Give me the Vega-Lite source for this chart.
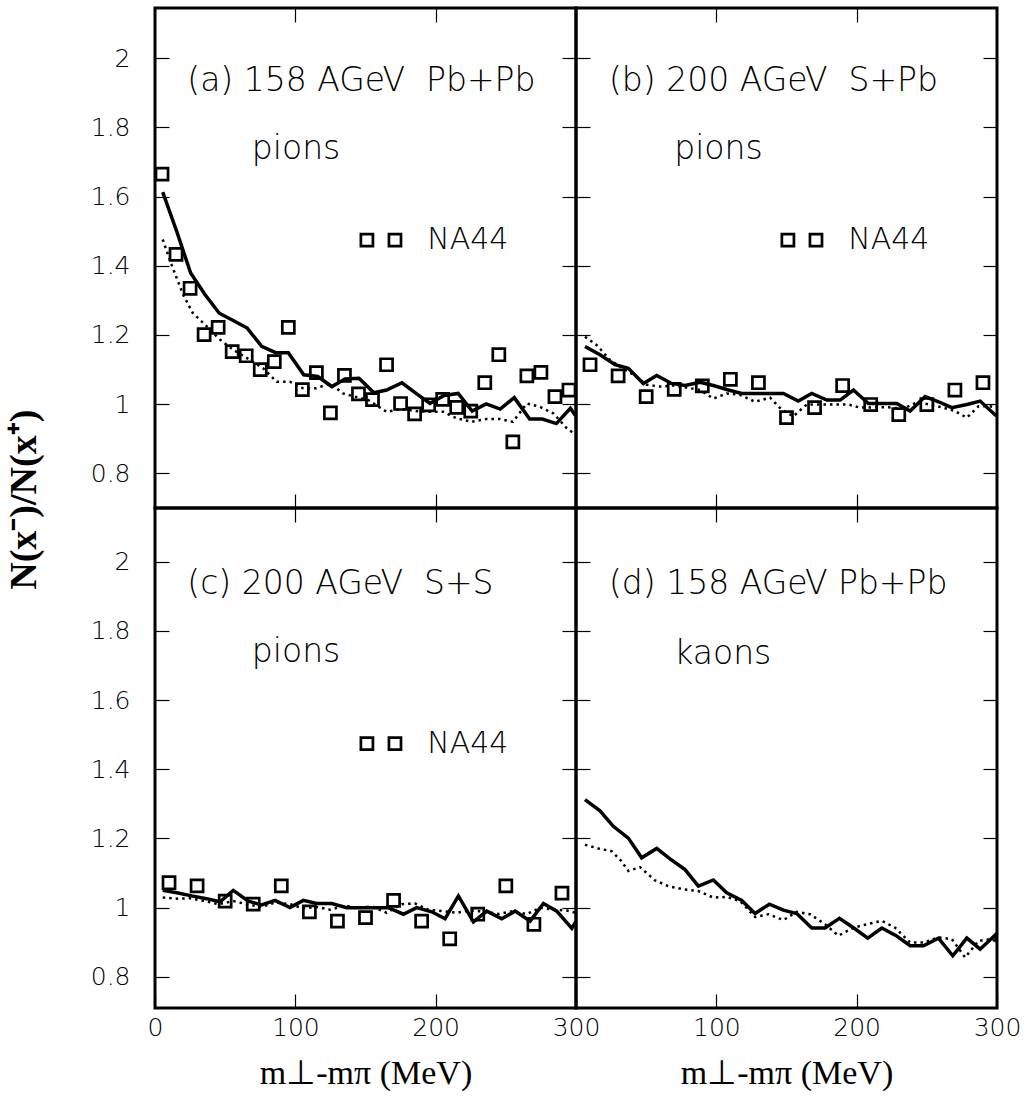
{
  "$schema": "https://vega.github.io/schema/vega-lite/v6.json",
  "padding": {"left": 5, "top": 5, "right": 10, "bottom": 5},
  "background": "white",
  "title": {
    "text": "N(x⁻)/N(x⁺)",
    "orient": "left",
    "anchor": "middle",
    "font": "Liberation Serif",
    "fontSize": 38,
    "fontWeight": "bold",
    "color": "black",
    "offset": 45,
    "dx": 49
  },
  "datasets": {
    "curves": [
      {"panel": "a", "curve": "solid", "x": 5.5, "y": 1.613},
      {"panel": "a", "curve": "solid", "x": 15.5, "y": 1.499},
      {"panel": "a", "curve": "solid", "x": 25.4, "y": 1.379},
      {"panel": "a", "curve": "solid", "x": 35.6, "y": 1.317},
      {"panel": "a", "curve": "solid", "x": 45.8, "y": 1.263},
      {"panel": "a", "curve": "solid", "x": 55.7, "y": 1.242},
      {"panel": "a", "curve": "solid", "x": 65.7, "y": 1.22},
      {"panel": "a", "curve": "solid", "x": 76, "y": 1.167},
      {"panel": "a", "curve": "solid", "x": 86, "y": 1.149},
      {"panel": "a", "curve": "solid", "x": 95, "y": 1.149},
      {"panel": "a", "curve": "solid", "x": 106, "y": 1.085},
      {"panel": "a", "curve": "solid", "x": 116, "y": 1.08},
      {"panel": "a", "curve": "solid", "x": 126, "y": 1.051},
      {"panel": "a", "curve": "solid", "x": 135.4, "y": 1.073},
      {"panel": "a", "curve": "solid", "x": 145.4, "y": 1.075},
      {"panel": "a", "curve": "solid", "x": 156, "y": 1.033},
      {"panel": "a", "curve": "solid", "x": 165, "y": 1.041},
      {"panel": "a", "curve": "solid", "x": 176, "y": 1.062},
      {"panel": "a", "curve": "solid", "x": 186, "y": 1.031},
      {"panel": "a", "curve": "solid", "x": 196, "y": 1.002},
      {"panel": "a", "curve": "solid", "x": 206, "y": 1.025},
      {"panel": "a", "curve": "solid", "x": 216, "y": 1.031},
      {"panel": "a", "curve": "solid", "x": 226, "y": 0.98},
      {"panel": "a", "curve": "solid", "x": 236, "y": 1.001},
      {"panel": "a", "curve": "solid", "x": 246, "y": 0.986},
      {"panel": "a", "curve": "solid", "x": 256, "y": 1.019},
      {"panel": "a", "curve": "solid", "x": 267, "y": 0.957},
      {"panel": "a", "curve": "solid", "x": 276, "y": 0.957},
      {"panel": "a", "curve": "solid", "x": 286, "y": 0.944},
      {"panel": "a", "curve": "solid", "x": 296, "y": 0.988},
      {"panel": "a", "curve": "solid", "x": 300, "y": 0.965},
      {"panel": "a", "curve": "dotted", "x": 5.5, "y": 1.476},
      {"panel": "a", "curve": "dotted", "x": 11.8, "y": 1.403},
      {"panel": "a", "curve": "dotted", "x": 20, "y": 1.317},
      {"panel": "a", "curve": "dotted", "x": 27, "y": 1.263},
      {"panel": "a", "curve": "dotted", "x": 35.6, "y": 1.23},
      {"panel": "a", "curve": "dotted", "x": 45, "y": 1.191},
      {"panel": "a", "curve": "dotted", "x": 55.8, "y": 1.157},
      {"panel": "a", "curve": "dotted", "x": 67.7, "y": 1.128},
      {"panel": "a", "curve": "dotted", "x": 77, "y": 1.104},
      {"panel": "a", "curve": "dotted", "x": 86.7, "y": 1.065},
      {"panel": "a", "curve": "dotted", "x": 96, "y": 1.065},
      {"panel": "a", "curve": "dotted", "x": 105.7, "y": 1.046},
      {"panel": "a", "curve": "dotted", "x": 115, "y": 1.046},
      {"panel": "a", "curve": "dotted", "x": 124.7, "y": 1.06},
      {"panel": "a", "curve": "dotted", "x": 134, "y": 1.031},
      {"panel": "a", "curve": "dotted", "x": 144, "y": 1.02},
      {"panel": "a", "curve": "dotted", "x": 152, "y": 1.012},
      {"panel": "a", "curve": "dotted", "x": 165, "y": 0.978},
      {"panel": "a", "curve": "dotted", "x": 176, "y": 0.986},
      {"panel": "a", "curve": "dotted", "x": 186.5, "y": 0.98},
      {"panel": "a", "curve": "dotted", "x": 196, "y": 0.978},
      {"panel": "a", "curve": "dotted", "x": 205.5, "y": 0.978},
      {"panel": "a", "curve": "dotted", "x": 215, "y": 0.959},
      {"panel": "a", "curve": "dotted", "x": 225.7, "y": 0.949},
      {"panel": "a", "curve": "dotted", "x": 236, "y": 0.957},
      {"panel": "a", "curve": "dotted", "x": 246, "y": 0.957},
      {"panel": "a", "curve": "dotted", "x": 255, "y": 0.949},
      {"panel": "a", "curve": "dotted", "x": 265, "y": 1.002},
      {"panel": "a", "curve": "dotted", "x": 274, "y": 0.993},
      {"panel": "a", "curve": "dotted", "x": 284, "y": 0.973},
      {"panel": "a", "curve": "dotted", "x": 293.5, "y": 0.93},
      {"panel": "a", "curve": "dotted", "x": 300, "y": 0.911},
      {"panel": "b", "curve": "solid", "x": 6.4, "y": 1.167},
      {"panel": "b", "curve": "solid", "x": 17.1, "y": 1.143},
      {"panel": "b", "curve": "solid", "x": 27.8, "y": 1.114},
      {"panel": "b", "curve": "solid", "x": 37.3, "y": 1.104},
      {"panel": "b", "curve": "solid", "x": 48, "y": 1.06},
      {"panel": "b", "curve": "solid", "x": 57.5, "y": 1.083},
      {"panel": "b", "curve": "solid", "x": 68.2, "y": 1.06},
      {"panel": "b", "curve": "solid", "x": 77.7, "y": 1.054},
      {"panel": "b", "curve": "solid", "x": 88.4, "y": 1.063},
      {"panel": "b", "curve": "solid", "x": 97.9, "y": 1.054},
      {"panel": "b", "curve": "solid", "x": 108.6, "y": 1.041},
      {"panel": "b", "curve": "solid", "x": 118.1, "y": 1.031},
      {"panel": "b", "curve": "solid", "x": 128.8, "y": 1.031},
      {"panel": "b", "curve": "solid", "x": 138.3, "y": 1.031},
      {"panel": "b", "curve": "solid", "x": 147.8, "y": 1.031},
      {"panel": "b", "curve": "solid", "x": 158.4, "y": 1.009},
      {"panel": "b", "curve": "solid", "x": 168, "y": 1.031},
      {"panel": "b", "curve": "solid", "x": 178.7, "y": 1.012},
      {"panel": "b", "curve": "solid", "x": 188.2, "y": 1.012},
      {"panel": "b", "curve": "solid", "x": 197.7, "y": 1.041},
      {"panel": "b", "curve": "solid", "x": 208.4, "y": 1.002},
      {"panel": "b", "curve": "solid", "x": 217.9, "y": 1.002},
      {"panel": "b", "curve": "solid", "x": 228.6, "y": 1.002},
      {"panel": "b", "curve": "solid", "x": 238.1, "y": 0.98},
      {"panel": "b", "curve": "solid", "x": 248.8, "y": 1.022},
      {"panel": "b", "curve": "solid", "x": 258.3, "y": 1.007},
      {"panel": "b", "curve": "solid", "x": 267.8, "y": 0.99},
      {"panel": "b", "curve": "solid", "x": 278.5, "y": 0.999},
      {"panel": "b", "curve": "solid", "x": 288, "y": 1.009},
      {"panel": "b", "curve": "solid", "x": 298.7, "y": 0.969},
      {"panel": "b", "curve": "solid", "x": 300, "y": 0.968},
      {"panel": "b", "curve": "dotted", "x": 6.4, "y": 1.195},
      {"panel": "b", "curve": "dotted", "x": 14.7, "y": 1.171},
      {"panel": "b", "curve": "dotted", "x": 24.2, "y": 1.128},
      {"panel": "b", "curve": "dotted", "x": 31.4, "y": 1.109},
      {"panel": "b", "curve": "dotted", "x": 40.8, "y": 1.085},
      {"panel": "b", "curve": "dotted", "x": 50.4, "y": 1.056},
      {"panel": "b", "curve": "dotted", "x": 59.9, "y": 1.051},
      {"panel": "b", "curve": "dotted", "x": 69.4, "y": 1.054},
      {"panel": "b", "curve": "dotted", "x": 78.9, "y": 1.048},
      {"panel": "b", "curve": "dotted", "x": 88.4, "y": 1.041},
      {"panel": "b", "curve": "dotted", "x": 97.9, "y": 1.016},
      {"panel": "b", "curve": "dotted", "x": 107.4, "y": 1.031},
      {"panel": "b", "curve": "dotted", "x": 116.9, "y": 1.027},
      {"panel": "b", "curve": "dotted", "x": 127.6, "y": 1.007},
      {"panel": "b", "curve": "dotted", "x": 138.3, "y": 1.019},
      {"panel": "b", "curve": "dotted", "x": 146.6, "y": 0.984},
      {"panel": "b", "curve": "dotted", "x": 154.9, "y": 0.965},
      {"panel": "b", "curve": "dotted", "x": 164.4, "y": 0.999},
      {"panel": "b", "curve": "dotted", "x": 173.9, "y": 0.999},
      {"panel": "b", "curve": "dotted", "x": 184.6, "y": 0.999},
      {"panel": "b", "curve": "dotted", "x": 194.1, "y": 0.999},
      {"panel": "b", "curve": "dotted", "x": 202.4, "y": 0.99},
      {"panel": "b", "curve": "dotted", "x": 213.1, "y": 0.991},
      {"panel": "b", "curve": "dotted", "x": 222.6, "y": 0.991},
      {"panel": "b", "curve": "dotted", "x": 233.3, "y": 0.987},
      {"panel": "b", "curve": "dotted", "x": 242.8, "y": 1.005},
      {"panel": "b", "curve": "dotted", "x": 252.3, "y": 0.999},
      {"panel": "b", "curve": "dotted", "x": 261.8, "y": 0.99},
      {"panel": "b", "curve": "dotted", "x": 270.1, "y": 0.98},
      {"panel": "b", "curve": "dotted", "x": 278.5, "y": 0.961},
      {"panel": "b", "curve": "dotted", "x": 286.8, "y": 0.994},
      {"panel": "b", "curve": "dotted", "x": 295.1, "y": 0.994},
      {"panel": "b", "curve": "dotted", "x": 300, "y": 0.99},
      {"panel": "c", "curve": "solid", "x": 5.5, "y": 1.05},
      {"panel": "c", "curve": "solid", "x": 15.5, "y": 1.043},
      {"panel": "c", "curve": "solid", "x": 26.1, "y": 1.034},
      {"panel": "c", "curve": "solid", "x": 36.8, "y": 1.026},
      {"panel": "c", "curve": "solid", "x": 46.3, "y": 1.017},
      {"panel": "c", "curve": "solid", "x": 55.8, "y": 1.05},
      {"panel": "c", "curve": "solid", "x": 66.5, "y": 1.019},
      {"panel": "c", "curve": "solid", "x": 76, "y": 1.008},
      {"panel": "c", "curve": "solid", "x": 85.5, "y": 1.021},
      {"panel": "c", "curve": "solid", "x": 96.2, "y": 1.0},
      {"panel": "c", "curve": "solid", "x": 105.7, "y": 1.021},
      {"panel": "c", "curve": "solid", "x": 115.2, "y": 1.012},
      {"panel": "c", "curve": "solid", "x": 125.9, "y": 1.012},
      {"panel": "c", "curve": "solid", "x": 136.6, "y": 1.0},
      {"panel": "c", "curve": "solid", "x": 146, "y": 1.0},
      {"panel": "c", "curve": "solid", "x": 156.8, "y": 1.0},
      {"panel": "c", "curve": "solid", "x": 166.3, "y": 1.0},
      {"panel": "c", "curve": "solid", "x": 177, "y": 0.981},
      {"panel": "c", "curve": "solid", "x": 186.5, "y": 1.0},
      {"panel": "c", "curve": "solid", "x": 197.2, "y": 0.988},
      {"panel": "c", "curve": "solid", "x": 206.7, "y": 0.968},
      {"panel": "c", "curve": "solid", "x": 216.2, "y": 1.034},
      {"panel": "c", "curve": "solid", "x": 226.9, "y": 0.959},
      {"panel": "c", "curve": "solid", "x": 236.4, "y": 0.99},
      {"panel": "c", "curve": "solid", "x": 247.1, "y": 0.968},
      {"panel": "c", "curve": "solid", "x": 256.6, "y": 0.99},
      {"panel": "c", "curve": "solid", "x": 267.3, "y": 0.961},
      {"panel": "c", "curve": "solid", "x": 276.8, "y": 1.012},
      {"panel": "c", "curve": "solid", "x": 286.3, "y": 0.99},
      {"panel": "c", "curve": "solid", "x": 297, "y": 0.94},
      {"panel": "c", "curve": "solid", "x": 300, "y": 0.96},
      {"panel": "c", "curve": "dotted", "x": 5.5, "y": 1.029},
      {"panel": "c", "curve": "dotted", "x": 15.5, "y": 1.026},
      {"panel": "c", "curve": "dotted", "x": 25, "y": 1.027},
      {"panel": "c", "curve": "dotted", "x": 35.6, "y": 1.019},
      {"panel": "c", "curve": "dotted", "x": 45, "y": 1.01},
      {"panel": "c", "curve": "dotted", "x": 55.8, "y": 1.019},
      {"panel": "c", "curve": "dotted", "x": 65.3, "y": 1.01},
      {"panel": "c", "curve": "dotted", "x": 76, "y": 1.002},
      {"panel": "c", "curve": "dotted", "x": 85.5, "y": 1.015},
      {"panel": "c", "curve": "dotted", "x": 96.2, "y": 1.01},
      {"panel": "c", "curve": "dotted", "x": 105.7, "y": 0.998},
      {"panel": "c", "curve": "dotted", "x": 115.2, "y": 1.002},
      {"panel": "c", "curve": "dotted", "x": 124.7, "y": 0.994},
      {"panel": "c", "curve": "dotted", "x": 135.4, "y": 1.006},
      {"panel": "c", "curve": "dotted", "x": 145, "y": 0.998},
      {"panel": "c", "curve": "dotted", "x": 154.4, "y": 1.004},
      {"panel": "c", "curve": "dotted", "x": 165.1, "y": 0.985},
      {"panel": "c", "curve": "dotted", "x": 175.8, "y": 1.01},
      {"panel": "c", "curve": "dotted", "x": 185.3, "y": 1.012},
      {"panel": "c", "curve": "dotted", "x": 194.8, "y": 0.994},
      {"panel": "c", "curve": "dotted", "x": 205.5, "y": 0.99},
      {"panel": "c", "curve": "dotted", "x": 215, "y": 0.985},
      {"panel": "c", "curve": "dotted", "x": 224.5, "y": 0.992},
      {"panel": "c", "curve": "dotted", "x": 235.2, "y": 0.988},
      {"panel": "c", "curve": "dotted", "x": 244.7, "y": 0.982},
      {"panel": "c", "curve": "dotted", "x": 255.4, "y": 0.99},
      {"panel": "c", "curve": "dotted", "x": 264.9, "y": 0.981},
      {"panel": "c", "curve": "dotted", "x": 274.4, "y": 1.0},
      {"panel": "c", "curve": "dotted", "x": 283.9, "y": 0.994},
      {"panel": "c", "curve": "dotted", "x": 293.4, "y": 0.992},
      {"panel": "c", "curve": "dotted", "x": 300, "y": 0.985},
      {"panel": "d", "curve": "solid", "x": 6.4, "y": 1.312},
      {"panel": "d", "curve": "solid", "x": 17.1, "y": 1.28},
      {"panel": "d", "curve": "solid", "x": 26.6, "y": 1.235},
      {"panel": "d", "curve": "solid", "x": 37.3, "y": 1.201},
      {"panel": "d", "curve": "solid", "x": 46.8, "y": 1.144},
      {"panel": "d", "curve": "solid", "x": 57.5, "y": 1.171},
      {"panel": "d", "curve": "solid", "x": 67, "y": 1.141},
      {"panel": "d", "curve": "solid", "x": 77.7, "y": 1.11},
      {"panel": "d", "curve": "solid", "x": 87.2, "y": 1.062},
      {"panel": "d", "curve": "solid", "x": 97.9, "y": 1.08},
      {"panel": "d", "curve": "solid", "x": 107.4, "y": 1.043},
      {"panel": "d", "curve": "solid", "x": 118.1, "y": 1.021},
      {"panel": "d", "curve": "solid", "x": 127.6, "y": 0.983},
      {"panel": "d", "curve": "solid", "x": 137.8, "y": 1.01},
      {"panel": "d", "curve": "solid", "x": 147.8, "y": 0.993},
      {"panel": "d", "curve": "solid", "x": 157.3, "y": 0.983},
      {"panel": "d", "curve": "solid", "x": 168, "y": 0.941},
      {"panel": "d", "curve": "solid", "x": 177.5, "y": 0.941},
      {"panel": "d", "curve": "solid", "x": 187.7, "y": 0.969},
      {"panel": "d", "curve": "solid", "x": 197.7, "y": 0.942},
      {"panel": "d", "curve": "solid", "x": 207.9, "y": 0.912},
      {"panel": "d", "curve": "solid", "x": 217.9, "y": 0.941},
      {"panel": "d", "curve": "solid", "x": 228.1, "y": 0.919},
      {"panel": "d", "curve": "solid", "x": 238.1, "y": 0.89},
      {"panel": "d", "curve": "solid", "x": 247.6, "y": 0.89},
      {"panel": "d", "curve": "solid", "x": 258.3, "y": 0.912},
      {"panel": "d", "curve": "solid", "x": 268.5, "y": 0.861},
      {"panel": "d", "curve": "solid", "x": 278.5, "y": 0.912},
      {"panel": "d", "curve": "solid", "x": 288, "y": 0.88},
      {"panel": "d", "curve": "solid", "x": 298.7, "y": 0.921},
      {"panel": "d", "curve": "solid", "x": 300, "y": 0.9},
      {"panel": "d", "curve": "dotted", "x": 6.4, "y": 1.182},
      {"panel": "d", "curve": "dotted", "x": 15.9, "y": 1.171},
      {"panel": "d", "curve": "dotted", "x": 25.4, "y": 1.163},
      {"panel": "d", "curve": "dotted", "x": 31.4, "y": 1.139},
      {"panel": "d", "curve": "dotted", "x": 37.3, "y": 1.106},
      {"panel": "d", "curve": "dotted", "x": 45.6, "y": 1.117},
      {"panel": "d", "curve": "dotted", "x": 56.3, "y": 1.079},
      {"panel": "d", "curve": "dotted", "x": 65.8, "y": 1.062},
      {"panel": "d", "curve": "dotted", "x": 76.5, "y": 1.053},
      {"panel": "d", "curve": "dotted", "x": 87.2, "y": 1.048},
      {"panel": "d", "curve": "dotted", "x": 97.9, "y": 1.029},
      {"panel": "d", "curve": "dotted", "x": 107.4, "y": 1.031},
      {"panel": "d", "curve": "dotted", "x": 116.9, "y": 1.019},
      {"panel": "d", "curve": "dotted", "x": 127.6, "y": 0.973},
      {"panel": "d", "curve": "dotted", "x": 137.1, "y": 0.981},
      {"panel": "d", "curve": "dotted", "x": 147.8, "y": 0.964},
      {"panel": "d", "curve": "dotted", "x": 157.3, "y": 0.988},
      {"panel": "d", "curve": "dotted", "x": 166.8, "y": 0.981},
      {"panel": "d", "curve": "dotted", "x": 177.5, "y": 0.952},
      {"panel": "d", "curve": "dotted", "x": 187, "y": 0.919},
      {"panel": "d", "curve": "dotted", "x": 197.7, "y": 0.942},
      {"panel": "d", "curve": "dotted", "x": 207.2, "y": 0.952},
      {"panel": "d", "curve": "dotted", "x": 217.9, "y": 0.962},
      {"panel": "d", "curve": "dotted", "x": 227.4, "y": 0.942},
      {"panel": "d", "curve": "dotted", "x": 238.1, "y": 0.899},
      {"panel": "d", "curve": "dotted", "x": 247.6, "y": 0.899},
      {"panel": "d", "curve": "dotted", "x": 258.3, "y": 0.914},
      {"panel": "d", "curve": "dotted", "x": 267.8, "y": 0.909},
      {"panel": "d", "curve": "dotted", "x": 277.3, "y": 0.856},
      {"panel": "d", "curve": "dotted", "x": 286.8, "y": 0.904},
      {"panel": "d", "curve": "dotted", "x": 296.3, "y": 0.909},
      {"panel": "d", "curve": "dotted", "x": 300, "y": 0.9}
    ],
    "points": [
      {"panel": "a", "x": 5, "y": 1.665},
      {"panel": "a", "x": 15, "y": 1.433},
      {"panel": "a", "x": 25, "y": 1.335},
      {"panel": "a", "x": 35, "y": 1.201},
      {"panel": "a", "x": 45, "y": 1.222},
      {"panel": "a", "x": 55, "y": 1.152},
      {"panel": "a", "x": 65, "y": 1.14},
      {"panel": "a", "x": 75, "y": 1.1},
      {"panel": "a", "x": 85, "y": 1.123},
      {"panel": "a", "x": 95, "y": 1.222},
      {"panel": "a", "x": 105, "y": 1.042},
      {"panel": "a", "x": 115, "y": 1.091},
      {"panel": "a", "x": 125, "y": 0.975},
      {"panel": "a", "x": 135, "y": 1.083},
      {"panel": "a", "x": 145, "y": 1.03},
      {"panel": "a", "x": 155, "y": 1.013},
      {"panel": "a", "x": 165, "y": 1.114},
      {"panel": "a", "x": 175, "y": 1.002},
      {"panel": "a", "x": 185, "y": 0.972},
      {"panel": "a", "x": 195, "y": 0.998},
      {"panel": "a", "x": 205, "y": 1.014},
      {"panel": "a", "x": 215, "y": 0.991},
      {"panel": "a", "x": 225, "y": 0.98},
      {"panel": "a", "x": 235, "y": 1.062},
      {"panel": "a", "x": 245, "y": 1.143},
      {"panel": "a", "x": 255, "y": 0.891},
      {"panel": "a", "x": 265, "y": 1.082},
      {"panel": "a", "x": 275, "y": 1.092},
      {"panel": "a", "x": 285, "y": 1.022},
      {"panel": "a", "x": 295, "y": 1.041},
      {"panel": "a", "x": 151, "y": 1.474},
      {"panel": "a", "x": 171, "y": 1.474},
      {"panel": "b", "x": 10, "y": 1.114},
      {"panel": "b", "x": 30, "y": 1.082},
      {"panel": "b", "x": 50, "y": 1.022},
      {"panel": "b", "x": 70, "y": 1.043},
      {"panel": "b", "x": 90, "y": 1.053},
      {"panel": "b", "x": 110, "y": 1.072},
      {"panel": "b", "x": 130, "y": 1.062},
      {"panel": "b", "x": 150, "y": 0.961},
      {"panel": "b", "x": 170, "y": 0.99},
      {"panel": "b", "x": 190, "y": 1.054},
      {"panel": "b", "x": 210, "y": 0.999},
      {"panel": "b", "x": 230, "y": 0.97},
      {"panel": "b", "x": 250, "y": 0.999},
      {"panel": "b", "x": 270, "y": 1.041},
      {"panel": "b", "x": 290, "y": 1.062},
      {"panel": "b", "x": 151, "y": 1.474},
      {"panel": "b", "x": 171, "y": 1.474},
      {"panel": "c", "x": 10, "y": 1.072},
      {"panel": "c", "x": 30, "y": 1.063},
      {"panel": "c", "x": 50, "y": 1.019},
      {"panel": "c", "x": 70, "y": 1.01},
      {"panel": "c", "x": 90, "y": 1.063},
      {"panel": "c", "x": 110, "y": 0.988},
      {"panel": "c", "x": 130, "y": 0.961},
      {"panel": "c", "x": 150, "y": 0.971},
      {"panel": "c", "x": 170, "y": 1.021},
      {"panel": "c", "x": 190, "y": 0.961},
      {"panel": "c", "x": 210, "y": 0.91},
      {"panel": "c", "x": 230, "y": 0.981},
      {"panel": "c", "x": 250, "y": 1.063},
      {"panel": "c", "x": 270, "y": 0.952},
      {"panel": "c", "x": 290, "y": 1.042},
      {"panel": "c", "x": 151, "y": 1.474},
      {"panel": "c", "x": 171, "y": 1.474}
    ],
    "notes": [
      {"panel": "a", "kind": "head", "x": 23, "y": 1.906, "label": "(a) 158 AGeV\u00a0 Pb+Pb"},
      {"panel": "a", "kind": "head", "x": 69, "y": 1.709, "label": "pions"},
      {"panel": "a", "kind": "key", "x": 194, "y": 1.474, "label": "NA44"},
      {"panel": "b", "kind": "head", "x": 23.5, "y": 1.906, "label": "(b) 200 AGeV\u00a0 S+Pb"},
      {"panel": "b", "kind": "head", "x": 70, "y": 1.709, "label": "pions"},
      {"panel": "b", "kind": "key", "x": 194, "y": 1.474, "label": "NA44"},
      {"panel": "c", "kind": "head", "x": 23, "y": 1.906, "label": "(c) 200 AGeV\u00a0 S+S"},
      {"panel": "c", "kind": "head", "x": 69, "y": 1.709, "label": "pions"},
      {"panel": "c", "kind": "key", "x": 194, "y": 1.474, "label": "NA44"},
      {"panel": "d", "kind": "head", "x": 23.5, "y": 1.906, "label": "(d) 158 AGeV Pb+Pb"},
      {"panel": "d", "kind": "head", "x": 70, "y": 1.705, "label": "kaons"}
    ]
  },
  "columns": 2,
  "spacing": 0,
  "bounds": "flush",
  "concat": [
    {
      "width": 421,
      "height": 500,
      "layer": [
        {
          "data": {"name": "curves"},
          "transform": [{"filter": "datum.panel === 'a' && datum.curve === 'solid'"}],
          "mark": {"type": "line", "color": "black", "strokeWidth": 3.5, "clip": true},
          "encoding": {
            "x": {"field": "x", "type": "quantitative", "scale": {"domain": [0, 300], "nice": false, "zero": false}, "axis": {"values": [100, 200], "labels": false, "title": null}},
            "y": {"field": "y", "type": "quantitative", "scale": {"domain": [0.7, 2.145], "nice": false, "zero": false}, "axis": {"values": [0.8, 1, 1.2, 1.4, 1.6, 1.8, 2], "format": "~g", "labelPadding": 39, "title": null}}
          }
        },
        {
          "data": {"name": "curves"},
          "transform": [{"filter": "datum.panel === 'a' && datum.curve === 'dotted'"}],
          "mark": {"type": "line", "color": "black", "strokeWidth": 2.5, "strokeDash": [2.5, 4], "clip": true},
          "encoding": {
            "x": {"field": "x", "type": "quantitative", "scale": {"domain": [0, 300], "nice": false, "zero": false}, "axis": {"orient": "top", "values": [100, 200], "labels": false, "title": null}},
            "y": {"field": "y", "type": "quantitative", "scale": {"domain": [0.7, 2.145], "nice": false, "zero": false}, "axis": {"orient": "right", "values": [0.8, 1, 1.2, 1.4, 1.6, 1.8, 2], "labels": false, "title": null}}
          }
        },
        {
          "data": {"name": "points"},
          "transform": [{"filter": "datum.panel === 'a'"}],
          "mark": {"type": "point", "shape": "square", "filled": false, "stroke": "black", "strokeWidth": 2.7, "size": 145, "opacity": 1, "clip": true},
          "encoding": {
            "x": {"field": "x", "type": "quantitative", "axis": null},
            "y": {"field": "y", "type": "quantitative", "axis": null}
          }
        },
        {
          "data": {"name": "notes"},
          "transform": [{"filter": "datum.panel === 'a' && datum.kind === 'head'"}],
          "mark": {"type": "text", "align": "left", "baseline": "alphabetic", "font": "DejaVu Sans", "fontWeight": 200, "fontSize": 33, "color": "black"},
          "encoding": {
            "x": {"field": "x", "type": "quantitative", "axis": null},
            "y": {"field": "y", "type": "quantitative", "axis": null},
            "text": {"field": "label"}
          }
        },
        {
          "data": {"name": "notes"},
          "transform": [{"filter": "datum.panel === 'a' && datum.kind === 'key'"}],
          "mark": {"type": "text", "align": "left", "baseline": "middle", "font": "DejaVu Sans", "fontWeight": 200, "fontSize": 30, "color": "black"},
          "encoding": {
            "x": {"field": "x", "type": "quantitative", "axis": null},
            "y": {"field": "y", "type": "quantitative", "axis": null},
            "text": {"field": "label"}
          }
        }
      ],
      "resolve": {"axis": {"x": "independent", "y": "independent"}}
    },
    {
      "width": 421,
      "height": 500,
      "layer": [
        {
          "data": {"name": "curves"},
          "transform": [{"filter": "datum.panel === 'b' && datum.curve === 'solid'"}],
          "mark": {"type": "line", "color": "black", "strokeWidth": 3.5, "clip": true},
          "encoding": {
            "x": {"field": "x", "type": "quantitative", "scale": {"domain": [0, 300], "nice": false, "zero": false}, "axis": {"values": [100, 200], "labels": false, "title": null}},
            "y": {"field": "y", "type": "quantitative", "scale": {"domain": [0.7, 2.145], "nice": false, "zero": false}, "axis": {"values": [0.8, 1, 1.2, 1.4, 1.6, 1.8, 2], "labels": false, "title": null}}
          }
        },
        {
          "data": {"name": "curves"},
          "transform": [{"filter": "datum.panel === 'b' && datum.curve === 'dotted'"}],
          "mark": {"type": "line", "color": "black", "strokeWidth": 2.5, "strokeDash": [2.5, 4], "clip": true},
          "encoding": {
            "x": {"field": "x", "type": "quantitative", "scale": {"domain": [0, 300], "nice": false, "zero": false}, "axis": {"orient": "top", "values": [100, 200], "labels": false, "title": null}},
            "y": {"field": "y", "type": "quantitative", "scale": {"domain": [0.7, 2.145], "nice": false, "zero": false}, "axis": {"orient": "right", "values": [0.8, 1, 1.2, 1.4, 1.6, 1.8, 2], "labels": false, "title": null}}
          }
        },
        {
          "data": {"name": "points"},
          "transform": [{"filter": "datum.panel === 'b'"}],
          "mark": {"type": "point", "shape": "square", "filled": false, "stroke": "black", "strokeWidth": 2.7, "size": 145, "opacity": 1, "clip": true},
          "encoding": {
            "x": {"field": "x", "type": "quantitative", "axis": null},
            "y": {"field": "y", "type": "quantitative", "axis": null}
          }
        },
        {
          "data": {"name": "notes"},
          "transform": [{"filter": "datum.panel === 'b' && datum.kind === 'head'"}],
          "mark": {"type": "text", "align": "left", "baseline": "alphabetic", "font": "DejaVu Sans", "fontWeight": 200, "fontSize": 33, "color": "black"},
          "encoding": {
            "x": {"field": "x", "type": "quantitative", "axis": null},
            "y": {"field": "y", "type": "quantitative", "axis": null},
            "text": {"field": "label"}
          }
        },
        {
          "data": {"name": "notes"},
          "transform": [{"filter": "datum.panel === 'b' && datum.kind === 'key'"}],
          "mark": {"type": "text", "align": "left", "baseline": "middle", "font": "DejaVu Sans", "fontWeight": 200, "fontSize": 30, "color": "black"},
          "encoding": {
            "x": {"field": "x", "type": "quantitative", "axis": null},
            "y": {"field": "y", "type": "quantitative", "axis": null},
            "text": {"field": "label"}
          }
        }
      ],
      "resolve": {"axis": {"x": "independent", "y": "independent"}}
    },
    {
      "width": 421,
      "height": 500,
      "layer": [
        {
          "data": {"name": "curves"},
          "transform": [{"filter": "datum.panel === 'c' && datum.curve === 'solid'"}],
          "mark": {"type": "line", "color": "black", "strokeWidth": 3.5, "clip": true},
          "encoding": {
            "x": {"field": "x", "type": "quantitative", "scale": {"domain": [0, 300], "nice": false, "zero": false}, "axis": {"values": [0, 100, 200, 300], "labelPadding": 21, "labelFlush": false, "title": "m⊥-mπ (MeV)", "titlePadding": 16}},
            "y": {"field": "y", "type": "quantitative", "scale": {"domain": [0.71, 2.155], "nice": false, "zero": false}, "axis": {"values": [0.8, 1, 1.2, 1.4, 1.6, 1.8, 2], "format": "~g", "labelPadding": 39, "title": null}}
          }
        },
        {
          "data": {"name": "curves"},
          "transform": [{"filter": "datum.panel === 'c' && datum.curve === 'dotted'"}],
          "mark": {"type": "line", "color": "black", "strokeWidth": 2.5, "strokeDash": [2.5, 4], "clip": true},
          "encoding": {
            "x": {"field": "x", "type": "quantitative", "scale": {"domain": [0, 300], "nice": false, "zero": false}, "axis": {"orient": "top", "values": [100, 200], "labels": false, "title": null}},
            "y": {"field": "y", "type": "quantitative", "scale": {"domain": [0.71, 2.155], "nice": false, "zero": false}, "axis": {"orient": "right", "values": [0.8, 1, 1.2, 1.4, 1.6, 1.8, 2], "labels": false, "title": null}}
          }
        },
        {
          "data": {"name": "points"},
          "transform": [{"filter": "datum.panel === 'c'"}],
          "mark": {"type": "point", "shape": "square", "filled": false, "stroke": "black", "strokeWidth": 2.7, "size": 145, "opacity": 1, "clip": true},
          "encoding": {
            "x": {"field": "x", "type": "quantitative", "axis": null},
            "y": {"field": "y", "type": "quantitative", "axis": null}
          }
        },
        {
          "data": {"name": "notes"},
          "transform": [{"filter": "datum.panel === 'c' && datum.kind === 'head'"}],
          "mark": {"type": "text", "align": "left", "baseline": "alphabetic", "font": "DejaVu Sans", "fontWeight": 200, "fontSize": 33, "color": "black"},
          "encoding": {
            "x": {"field": "x", "type": "quantitative", "axis": null},
            "y": {"field": "y", "type": "quantitative", "axis": null},
            "text": {"field": "label"}
          }
        },
        {
          "data": {"name": "notes"},
          "transform": [{"filter": "datum.panel === 'c' && datum.kind === 'key'"}],
          "mark": {"type": "text", "align": "left", "baseline": "middle", "font": "DejaVu Sans", "fontWeight": 200, "fontSize": 30, "color": "black"},
          "encoding": {
            "x": {"field": "x", "type": "quantitative", "axis": null},
            "y": {"field": "y", "type": "quantitative", "axis": null},
            "text": {"field": "label"}
          }
        }
      ],
      "resolve": {"axis": {"x": "independent", "y": "independent"}}
    },
    {
      "width": 421,
      "height": 500,
      "layer": [
        {
          "data": {"name": "curves"},
          "transform": [{"filter": "datum.panel === 'd' && datum.curve === 'solid'"}],
          "mark": {"type": "line", "color": "black", "strokeWidth": 3.5, "clip": true},
          "encoding": {
            "x": {"field": "x", "type": "quantitative", "scale": {"domain": [0, 300], "nice": false, "zero": false}, "axis": {"values": [100, 200, 300], "labelPadding": 21, "labelFlush": false, "title": "m⊥-mπ (MeV)", "titlePadding": 16}},
            "y": {"field": "y", "type": "quantitative", "scale": {"domain": [0.71, 2.155], "nice": false, "zero": false}, "axis": {"values": [0.8, 1, 1.2, 1.4, 1.6, 1.8, 2], "labels": false, "title": null}}
          }
        },
        {
          "data": {"name": "curves"},
          "transform": [{"filter": "datum.panel === 'd' && datum.curve === 'dotted'"}],
          "mark": {"type": "line", "color": "black", "strokeWidth": 2.5, "strokeDash": [2.5, 4], "clip": true},
          "encoding": {
            "x": {"field": "x", "type": "quantitative", "scale": {"domain": [0, 300], "nice": false, "zero": false}, "axis": {"orient": "top", "values": [100, 200], "labels": false, "title": null}},
            "y": {"field": "y", "type": "quantitative", "scale": {"domain": [0.71, 2.155], "nice": false, "zero": false}, "axis": {"orient": "right", "values": [0.8, 1, 1.2, 1.4, 1.6, 1.8, 2], "labels": false, "title": null}}
          }
        },
        {
          "data": {"name": "notes"},
          "transform": [{"filter": "datum.panel === 'd' && datum.kind === 'head'"}],
          "mark": {"type": "text", "align": "left", "baseline": "alphabetic", "font": "DejaVu Sans", "fontWeight": 200, "fontSize": 33, "color": "black"},
          "encoding": {
            "x": {"field": "x", "type": "quantitative", "axis": null},
            "y": {"field": "y", "type": "quantitative", "axis": null},
            "text": {"field": "label"}
          }
        }
      ],
      "resolve": {"axis": {"x": "independent", "y": "independent"}}
    }
  ],
  "config": {
    "view": {"stroke": "black", "strokeWidth": 3},
    "axis": {
      "domain": false,
      "grid": false,
      "ticks": true,
      "tickColor": "black",
      "tickSize": -14,
      "tickWidth": 1.2,
      "labelFont": "DejaVu Sans",
      "labelFontWeight": 200,
      "labelFontSize": 25,
      "labelColor": "black",
      "titleFont": "Liberation Serif",
      "titleFontSize": 34,
      "titleFontWeight": "normal",
      "titleColor": "black"
    }
  }
}
